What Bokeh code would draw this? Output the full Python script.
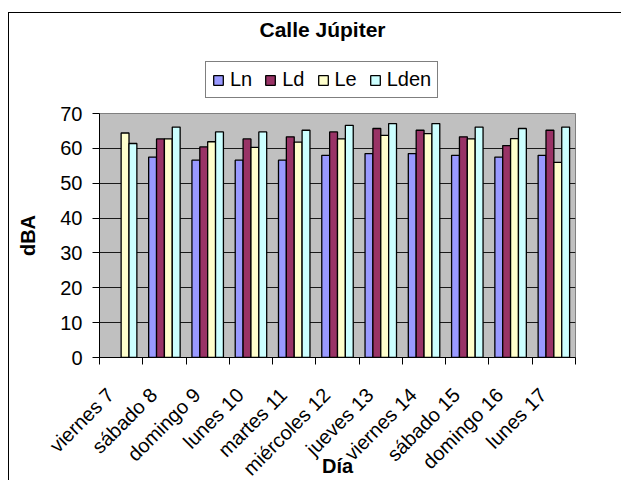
import math
from bokeh.plotting import figure
from bokeh.layouts import column
from bokeh.models import (Range1d, FixedTicker, Legend, LegendItem, Label,
                          ColumnDataSource)
from bokeh.embed import file_html
from bokeh.resources import INLINE

nan = float("nan")

days = ["viernes 7", "sábado 8", "domingo 9", "lunes 10", "martes 11", "miércoles 12",
        "jueves 13", "viernes 14", "sábado 15", "domingo 16", "lunes 17"]
Ln = [nan, 57.5, 56.6, 56.6, 56.6, 58.0, 58.5, 58.5, 58.0, 57.5, 58.0]
Ld = [nan, 62.7, 60.4, 62.7, 63.3, 64.7, 65.7, 65.2, 63.3, 60.8, 65.2]
Le = [64.4, 62.7, 61.9, 60.3, 61.8, 62.7, 63.7, 64.2, 62.7, 62.8, 56.0]
Lden = [61.4, 66.1, 64.7, 64.7, 65.2, 66.6, 67.1, 67.1, 66.1, 65.7, 66.1]
y_ticks = [0, 10, 20, 30, 40, 50, 60, 70]

series = [("Ln", Ln, "#9999FF"), ("Ld", Ld, "#993366"),
          ("Le", Le, "#FFFFCC"), ("Lden", Lden, "#CCFFFF")]

FONT = "Liberation Sans"
n = len(days)
bw = 1 / 5.5  # Excel gap width 150%

# ---------- header: title + legend ----------
top = figure(width=612, height=88, output_backend="svg", toolbar_location=None,
             x_range=Range1d(0, 1), y_range=Range1d(0, 1),
             x_axis_type=None, y_axis_type=None,
             min_border_left=0, min_border_right=0, min_border_top=0,
             min_border_bottom=0)
top.outline_line_color = None
top.background_fill_color = "white"
top.border_fill_color = "white"
top.xgrid.grid_line_color = None
top.ygrid.grid_line_color = None

top.add_layout(Label(x=223, y=72, x_units="screen", y_units="screen",
                     text="Calle Júpiter", text_align="center",
                     text_baseline="alphabetic", text_font=FONT,
                     text_font_size="21px", text_font_style="bold",
                     text_color="black"))

items = []
for name, vals, col in series:
    # legend-only renderer (its single point is NaN, so no mark is drawn)
    src = ColumnDataSource(dict(x=[nan], top=[nan]))
    r = top.vbar(x="x", top="top", bottom=0, width=bw, source=src,
                 fill_color=col, line_color="black", line_width=1.3)
    items.append(LegendItem(label=name, renderers=[r]))

legend = Legend(items=items, location=(106, 3), orientation="horizontal",
                glyph_width=12, glyph_height=12, label_standoff=6, spacing=12,
                padding=6, margin=0, border_line_color="black", border_line_width=1,
                background_fill_color="white", background_fill_alpha=1,
                label_text_font=FONT, label_text_font_size="20px",
                label_text_color="black")
top.add_layout(legend)

# ---------- chart ----------
p = figure(width=612, height=379, output_backend="svg", toolbar_location=None,
           x_range=Range1d(0, n), y_range=Range1d(0, 70),
           min_border_left=90, min_border_right=46, min_border_top=12,
           min_border_bottom=122)
p.background_fill_color = "#C0C0C0"
p.border_fill_color = "white"
p.outline_line_color = "#808080"
p.outline_line_width = 1

for k, (name, vals, col) in enumerate(series):
    off = (k - 1.5) * bw
    xs = [i + 0.5 + off for i in range(n)]
    src = ColumnDataSource(dict(x=xs, top=vals))
    p.vbar(x="x", top="top", bottom=0, width=bw, source=src,
           fill_color=col, line_color="black", line_width=1.3)

p.xgrid.grid_line_color = None
p.ygrid.grid_line_color = "#1a1a1a"
p.ygrid.grid_line_width = 1
p.ygrid.ticker = FixedTicker(ticks=y_ticks)

ya = p.yaxis[0]
ya.ticker = FixedTicker(ticks=y_ticks)
ya.axis_line_color = "black"
ya.major_tick_out = 7
ya.major_tick_in = 0
ya.minor_tick_line_color = None
ya.major_label_standoff = 10
ya.major_label_text_font = FONT
ya.major_label_text_font_size = "20px"
ya.major_label_text_color = "black"
ya.axis_label = "dBA"
ya.axis_label_standoff = 18
ya.axis_label_text_font = FONT
ya.axis_label_text_font_size = "20px"
ya.axis_label_text_font_style = "bold"
ya.axis_label_text_color = "black"

# x axis: rotated labels (anchored a little left of each category centre,
# as in the original), tick marks at the category boundaries
xa = p.xaxis[0]
xa.ticker = FixedTicker(ticks=[i + 0.25 for i in range(n)],
                        minor_ticks=list(range(n + 1)))
xa.major_label_overrides = {i + 0.25: d for i, d in enumerate(days)}
xa.major_tick_line_color = None
xa.minor_tick_out = 7
xa.minor_tick_in = 0
xa.minor_tick_line_color = "black"
xa.axis_line_color = "black"
xa.major_label_orientation = math.pi / 4
xa.major_label_standoff = 27
xa.major_label_text_font = FONT
xa.major_label_text_font_size = "20px"
xa.major_label_text_color = "black"
xa.axis_label = "Día"
xa.axis_label_standoff = -35
xa.axis_label_text_font = FONT
xa.axis_label_text_font_size = "20px"
xa.axis_label_text_font_style = "bold"
xa.axis_label_text_color = "black"

layout = column(top, p, spacing=0)
layout.styles = {"margin-left": "8px", "margin-top": "12px",
                 "border-top": "1px solid #000", "border-left": "1px solid #000"}

open("out.html", "w").write(file_html(layout, INLINE))
